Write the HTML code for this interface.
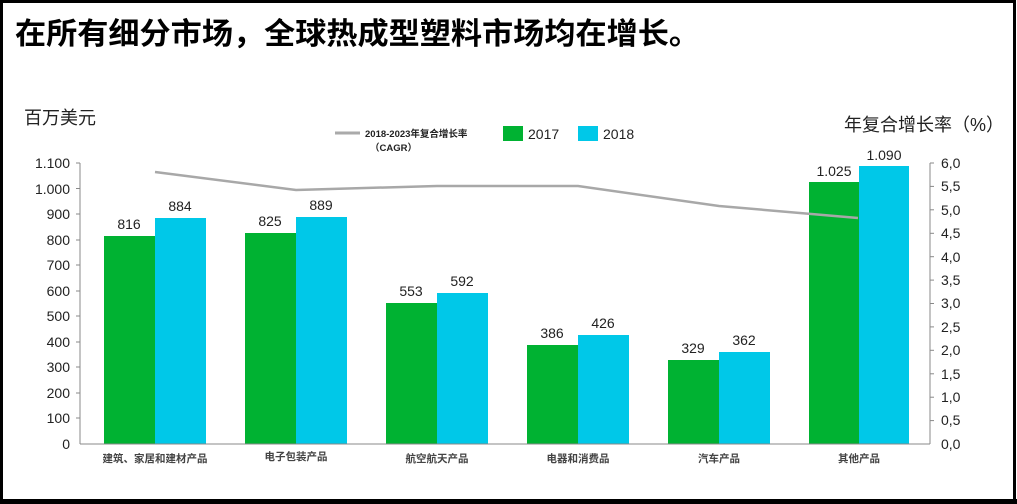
<!DOCTYPE html>
<html><head><meta charset="utf-8"><style>
html,body{margin:0;padding:0;background:#fff}
svg{display:block}
text{font-family:"Liberation Sans","Noto Sans CJK SC",sans-serif}
</style></head><body>
<svg width="1017" height="504" viewBox="0 0 1017 504" xmlns="http://www.w3.org/2000/svg">
<rect x="1.5" y="1.5" width="1013" height="500" fill="#fff" stroke="#000" stroke-width="3"/>
<rect x="0" y="499" width="1017" height="5" fill="#000"/>
<text x="15" y="44" font-size="30" font-weight="bold" textLength="685" lengthAdjust="spacingAndGlyphs" fill="#000">在所有细分市场，全球热成型塑料市场均在增长。</text>
<text x="24" y="124" font-size="18" fill="#222">百万美元</text>
<text x="1004" y="131" font-size="18" fill="#222" text-anchor="end">年复合增长率（%）</text>
<line x1="335" y1="133" x2="360" y2="133" stroke="#aaa" stroke-width="3"/>
<text x="365" y="137" font-size="9.5" font-weight="bold" fill="#222">2018-2023年复合增长率</text>
<text x="370" y="151" font-size="9.5" font-weight="bold" fill="#222">（CAGR）</text>
<rect x="503" y="126" width="20" height="15" fill="#00b232"/>
<text x="528" y="139" font-size="14" fill="#222">2017</text>
<rect x="578" y="126" width="20" height="15" fill="#00c8e8"/>
<text x="603" y="139" font-size="14" fill="#222">2018</text>
<g font-size="14" fill="#222" text-anchor="end">
<text x="70" y="168">1.100</text><text x="70" y="194">1.000</text><text x="70" y="219">900</text>
<text x="70" y="245">800</text><text x="70" y="270">700</text><text x="70" y="296">600</text>
<text x="70" y="321">500</text><text x="70" y="347">400</text><text x="70" y="372">300</text>
<text x="70" y="398">200</text><text x="70" y="423">100</text><text x="70" y="449">0</text>
</g>
<g stroke="#888" stroke-width="1">
<line x1="80" y1="163" x2="80" y2="444"/>
<line x1="76" y1="163" x2="80" y2="163"/><line x1="76" y1="188.5" x2="80" y2="188.5"/><line x1="76" y1="214" x2="80" y2="214"/>
<line x1="76" y1="240" x2="80" y2="240"/><line x1="76" y1="265" x2="80" y2="265"/><line x1="76" y1="291" x2="80" y2="291"/>
<line x1="76" y1="316" x2="80" y2="316"/><line x1="76" y1="342" x2="80" y2="342"/><line x1="76" y1="367" x2="80" y2="367"/>
<line x1="76" y1="393" x2="80" y2="393"/><line x1="76" y1="418" x2="80" y2="418"/>
<line x1="930" y1="163" x2="930" y2="444"/>
<line x1="930" y1="163" x2="934" y2="163"/><line x1="930" y1="186.4" x2="934" y2="186.4"/><line x1="930" y1="209.8" x2="934" y2="209.8"/>
<line x1="930" y1="233.3" x2="934" y2="233.3"/><line x1="930" y1="256.7" x2="934" y2="256.7"/><line x1="930" y1="280.1" x2="934" y2="280.1"/>
<line x1="930" y1="303.5" x2="934" y2="303.5"/><line x1="930" y1="326.9" x2="934" y2="326.9"/><line x1="930" y1="350.3" x2="934" y2="350.3"/>
<line x1="930" y1="373.8" x2="934" y2="373.8"/><line x1="930" y1="397.2" x2="934" y2="397.2"/><line x1="930" y1="420.6" x2="934" y2="420.6"/>
</g>
<g font-size="14" fill="#222">
<text x="941" y="168">6,0</text><text x="941" y="191">5,5</text><text x="941" y="215">5,0</text>
<text x="941" y="238">4,5</text><text x="941" y="262">4,0</text><text x="941" y="285">3,5</text>
<text x="941" y="308">3,0</text><text x="941" y="332">2,5</text><text x="941" y="355">2,0</text>
<text x="941" y="379">1,5</text><text x="941" y="402">1,0</text><text x="941" y="425">0,5</text>
<text x="941" y="449">0,0</text>
</g>
<g fill="#00b232">
<rect x="104" y="236" width="51" height="208"/>
<rect x="245" y="233" width="51" height="211"/>
<rect x="386" y="303" width="51" height="141"/>
<rect x="527" y="345" width="51" height="99"/>
<rect x="668" y="360" width="51" height="84"/>
<rect x="809" y="182" width="50" height="262"/>
</g>
<polyline points="155,172 296,190 437,186 578,186 719,206 858,218" fill="none" stroke="#a8a8a8" stroke-width="2.5"/>
<g fill="#00c8e8">
<rect x="155" y="218" width="51" height="226"/>
<rect x="296" y="217" width="51" height="227"/>
<rect x="437" y="293" width="51" height="151"/>
<rect x="578" y="335" width="51" height="109"/>
<rect x="719" y="352" width="51" height="92"/>
<rect x="859" y="166" width="50" height="278"/>
</g>
<line x1="80" y1="444" x2="930" y2="444" stroke="#888" stroke-width="1"/>
<g font-size="14" fill="#222" text-anchor="middle">
<text x="129" y="229">816</text><text x="180" y="211">884</text>
<text x="270" y="226">825</text><text x="321" y="210">889</text>
<text x="411" y="296">553</text><text x="462" y="286">592</text>
<text x="552" y="338">386</text><text x="603" y="328">426</text>
<text x="693" y="353">329</text><text x="744" y="345">362</text>
<text x="834" y="176">1.025</text><text x="884" y="160">1.090</text>
</g>
<g font-size="10.5" font-weight="bold" fill="#444" text-anchor="middle">
<text x="155" y="462">建筑、家居和建材产品</text>
<text x="296" y="460">电子包装产品</text>
<text x="437" y="462">航空航天产品</text>
<text x="578" y="462">电器和消费品</text>
<text x="719" y="462">汽车产品</text>
<text x="859" y="462">其他产品</text>
</g>
</svg>
</body></html>
